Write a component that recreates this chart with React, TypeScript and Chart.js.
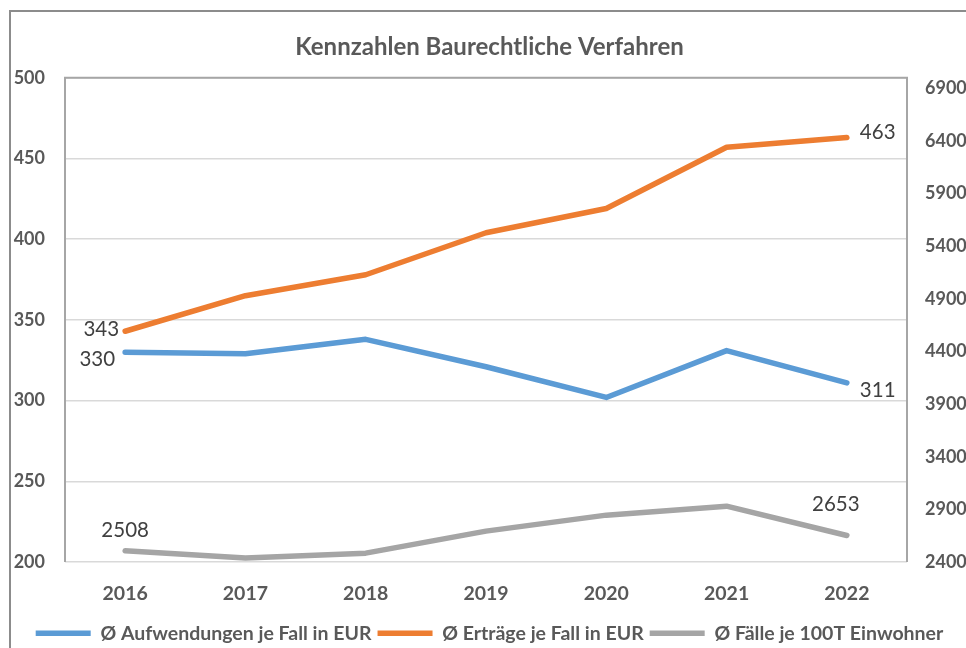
import { useEffect, useRef } from 'react';
import { Chart, registerables } from 'chart.js';

Chart.register(...registerables);

const years = ['2016', '2017', '2018', '2019', '2020', '2021', '2022'];
const aufwendungen = [330, 329, 338, 321, 302, 331, 311];
const ertraege = [343, 365, 378, 404, 419, 457, 463];
const faelle = [2508, 2438, 2485, 2694, 2846, 2931, 2653];
const leftTicks = [200, 250, 300, 350, 400, 450, 500];
const rightTicks = [2400, 2900, 3400, 3900, 4400, 4900, 5400, 5900, 6400, 6900];

const seriesNames = [
  'Ø Aufwendungen je Fall in EUR',
  'Ø Erträge je Fall in EUR',
  'Ø Fälle je 100T Einwohner',
];

// label placement styles: [first, last] => [dx, dy, align]
const labelStyles: Array<Array<[number, number, CanvasTextAlign]>> = [
  [[-10, 7, 'right'], [13, 7, 'left']],
  [[-6, -2, 'right'], [13, -5, 'left']],
  [[0, -20, 'center'], [-11, -31, 'center']],
];

const GRAY_TEXT = '#595959';

export default function App() {
  const ref = useRef<HTMLCanvasElement>(null);

  useEffect(() => {
    if (!ref.current) return;

    const framePlugin = {
      id: 'frame',
      beforeDatasetsDraw(chart: any) {
        const { ctx, chartArea } = chart;
        ctx.save();
        ctx.strokeStyle = '#a6a6a6';
        ctx.lineWidth = 2;
        ctx.beginPath();
        ctx.moveTo(chartArea.left, chartArea.bottom);
        ctx.lineTo(chartArea.left, chartArea.top);
        ctx.lineTo(chartArea.right, chartArea.top);
        ctx.lineTo(chartArea.right, chartArea.bottom);
        ctx.stroke();
        ctx.restore();
      },
    };

    const labelPlugin = {
      id: 'endLabels',
      afterDatasetsDraw(chart: any) {
        const { ctx } = chart;
        ctx.save();
        ctx.font = '20.5px Lato';
        ctx.fillStyle = '#404040';
        ctx.textBaseline = 'middle';
        chart.data.datasets.forEach((ds: any, di: number) => {
          const meta = chart.getDatasetMeta(di);
          const idxs = [0, ds.data.length - 1];
          idxs.forEach((idx, k) => {
            const pt = meta.data[idx];
            const [dx, dy, align] = labelStyles[di][k];
            ctx.textAlign = align;
            ctx.fillText(String(ds.data[idx]), pt.x + dx, pt.y + dy);
          });
        });
        ctx.restore();
      },
    };

    const chart = new Chart(ref.current, {
      type: 'line',
      data: {
        labels: years,
        datasets: [
          {
            label: seriesNames[0],
            data: aufwendungen,
            borderColor: '#5b9bd5',
            backgroundColor: '#5b9bd5',
            borderWidth: 5.5,
            borderCapStyle: 'round',
            borderJoinStyle: 'round',
            pointRadius: 0,
            yAxisID: 'y',
          },
          {
            label: seriesNames[1],
            data: ertraege,
            borderColor: '#ed7d31',
            backgroundColor: '#ed7d31',
            borderWidth: 5.5,
            borderCapStyle: 'round',
            borderJoinStyle: 'round',
            pointRadius: 0,
            yAxisID: 'y',
          },
          {
            label: seriesNames[2],
            data: faelle,
            borderColor: '#a5a5a5',
            backgroundColor: '#a5a5a5',
            borderWidth: 5.5,
            borderCapStyle: 'round',
            borderJoinStyle: 'round',
            pointRadius: 0,
            yAxisID: 'y1',
          },
        ],
      },
      options: {
        responsive: false,
        animation: false,
        layout: { padding: { top: 0, bottom: 4, left: 0, right: 0 } },
        plugins: {
          title: {
            display: true,
            text: 'Kennzahlen Baurechtliche Verfahren',
            color: GRAY_TEXT,
            font: { family: 'Lato', size: 24, weight: 'bold' },
            padding: { top: 21, bottom: 16 },
          },
          legend: {
            position: 'bottom',
            labels: {
              usePointStyle: true,
              pointStyle: 'line',
              pointStyleWidth: 55,
              color: GRAY_TEXT,
              font: { family: 'Lato', size: 19.5, weight: 'bold' },
              padding: 6,
            },
          },
          tooltip: { enabled: false },
        },
        scales: {
          x: {
            offset: true,
            grid: { display: false },
            border: { display: false },
            ticks: {
              color: GRAY_TEXT,
              font: { family: 'Lato', size: 19.5, weight: 'bold' },
              padding: 12,
            },
          },
          y: {
            position: 'left',
            min: 200,
            max: 500,
            afterBuildTicks: (s: any) => {
              s.ticks = leftTicks.map((v) => ({ value: v }));
            },
            afterFit: (s: any) => {
              s.width = 54;
            },
            grid: { color: '#d9d9d9', lineWidth: 1.5, drawTicks: false },
            border: { display: false },
            ticks: {
              color: GRAY_TEXT,
              font: { family: 'Lato', size: 18, weight: 'bold' },
              padding: 20,
              callback: (v: any) => String(v),
            },
          },
          y1: {
            position: 'right',
            min: 2400,
            max: 7000,
            afterBuildTicks: (s: any) => {
              s.ticks = rightTicks.map((v) => ({ value: v }));
            },
            afterFit: (s: any) => {
              s.width = 61;
            },
            grid: { display: false, drawTicks: false },
            border: { display: false },
            ticks: {
              color: GRAY_TEXT,
              font: { family: 'Lato', size: 18, weight: 'bold' },
              padding: 18,
              callback: (v: any) => String(v),
            },
          },
        },
      },
      plugins: [framePlugin, labelPlugin],
    } as any);

    return () => chart.destroy();
  }, []);

  return (
    <div
      style={{
        position: 'fixed',
        left: 0,
        top: 0,
        width: 966,
        height: 648,
        overflow: 'hidden',
        background: '#ffffff',
      }}
    >
      <div
        style={{
          position: 'absolute',
          left: 9,
          top: 10,
          width: 990,
          height: 680,
          border: '2px solid #8c8c8c',
          boxSizing: 'border-box',
        }}
      >
        <canvas ref={ref} width={957} height={645} style={{ display: 'block' }} />
      </div>
    </div>
  );
}
